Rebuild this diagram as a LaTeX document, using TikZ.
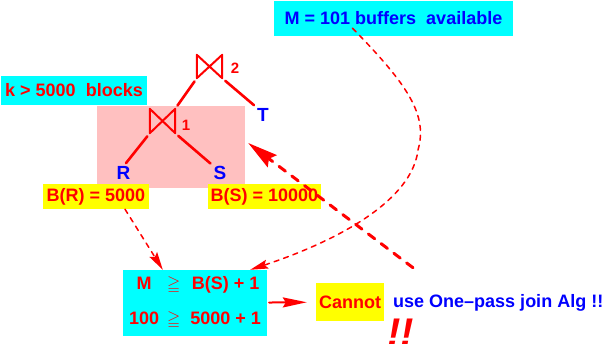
\documentclass[tikz,border=0pt]{standalone}
\usepackage{fontspec}
\setmainfont{Liberation Sans}
\usepackage{amssymb}
\usetikzlibrary{arrows.meta}

% small "greater or equal" sign used in the condition box
\newcommand{\geqsign}{{\fontsize{17}{17}\selectfont$\geqq$}}

\begin{document}
\begin{tikzpicture}[
    x=1pt, y=-1pt,
    line cap=round,
    every node/.style={font=\bfseries\fontsize{18}{21}\selectfont, inner sep=0pt},
    relname/.style={text=xblue, font=\bfseries\fontsize{19}{21}\selectfont},
    joinnum/.style={text=xred, font=\bfseries\fontsize{15}{17}\selectfont},
    treeline/.style={xred, line width=2.6pt, shorten <=4pt, shorten >=4pt},
    dasharr/.style={xred, line width=1.5pt, dash pattern=on 5pt off 5pt,
        -{Stealth[length=18pt,width=9pt,inset=3pt]}},
    bigarr/.style={xred, line width=3pt, dash pattern=on 8pt off 8pt,
        -{Stealth[length=30pt,width=15pt,inset=4pt]}},
    solidarr/.style={xred, line width=2pt,
        -{Stealth[length=24pt,width=10pt,inset=3pt]}},
]

\definecolor{pinkbg}{RGB}{255,192,192}
\definecolor{xcyan}{RGB}{0,255,255}
\definecolor{xyellow}{RGB}{255,255,0}
\definecolor{xred}{RGB}{255,0,0}
\definecolor{xblue}{RGB}{0,0,255}

\useasboundingbox (0,0) rectangle (611,344);

% ---------- boxes ----------
\node[fill=xcyan, text=xblue, minimum width=239pt, minimum height=35pt] (mbuf) at (393.5,18.5) {M = 101 buffers\ \ available};
\node[fill=xcyan, text=xred, minimum width=146pt, minimum height=29pt] (kblk) at (74,90.5) {k > 5000\ \ blocks};
\node[fill=pinkbg, minimum width=148pt, minimum height=82pt] (grp) at (171,147) {};

% ---------- join tree ----------
\node[minimum width=25pt, minimum height=23pt] (j2) at (209.5,66.5) {};
\node[minimum width=25pt, minimum height=24pt] (j1) at (162.5,121) {};
\foreach \j in {j1,j2}{
    \draw[xred, line width=2pt, line join=round]
        (\j.north west) -- (\j.south east) -- (\j.north east) -- (\j.south west) -- cycle;
}
\node[joinnum] (n2) at (235,68) {2};
\node[joinnum] (n1) at (186,125.5) {1};
\node[relname] (relT) at (263,114.5) {T};
\node[relname] (relR) at (123.5,173) {R};
\node[relname] (relS) at (220,173) {S};

\draw[treeline] (j2.south west) -- (j1.north east);
\draw[treeline] (j2.south east) -- (relT.north west);
\draw[treeline] (j1.south west) -- (relR.north);
\draw[treeline] (j1.south east) -- (relS.north west);

% ---------- sizes ----------
\node[fill=xyellow, text=xred, minimum width=106pt, minimum height=25pt] (br) at (96,196.5) {B(R) = 5000};
\node[fill=xyellow, text=xred, minimum width=113pt, minimum height=25pt] (bs) at (264.5,196.5) {B(S) = 10000};

% ---------- condition and conclusion ----------
\node[fill=xcyan, text=xred, minimum width=144pt, minimum height=66pt] (cond) at (195,303) {%
    \begin{tabular}{@{}c@{\hspace{8pt}}c@{\hspace{10pt}}c@{}}
        M & \geqsign & B(S) + 1\\[14pt]
        100 & \geqsign & 5000 + 1
    \end{tabular}};
\node[fill=xyellow, text=xred, minimum width=68pt, minimum height=38pt] (cannot) at (350,302) {Cannot};
\node[text=xblue, anchor=base west] (usetxt) at (393,308) {use One--pass join Alg !!};
\node[text=xred, font=\bfseries\itshape\fontsize{40}{40}\selectfont, anchor=base west] (bang) at (387,347) {!!};

% ---------- connectors ----------
\draw[dasharr] ([xshift=29pt]br.south) -- ([xshift=40pt]cond.north west);
\draw[dasharr] ([xshift=-41pt,yshift=8pt]mbuf.south)
    .. controls (408,85) and (428,115) .. (418,150)
    .. controls (412,200) and (340,240) .. ([xshift=-17pt]cond.north east);
\draw[solidarr, shorten <=2pt, shorten >=9pt] (cond) -- (cannot);
\coordinate (tail) at ([xshift=20pt,yshift=27pt]usetxt.north west);
\draw[bigarr] (tail) -- ([xshift=3pt,yshift=4pt]grp.east);

\end{tikzpicture}
\end{document}
